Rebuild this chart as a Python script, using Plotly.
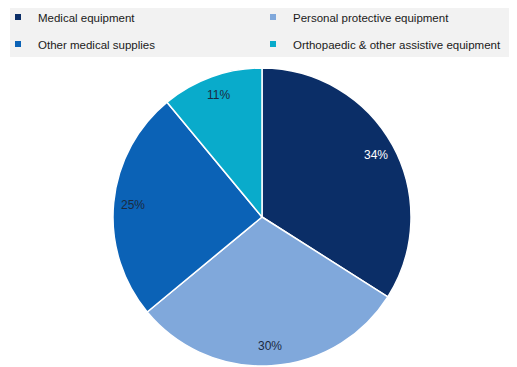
import math
import plotly.graph_objects as go

categories = ["Medical equipment", "Personal protective equipment",
              "Other medical supplies", "Orthopaedic & other assistive equipment"]
shares = [34, 30, 25, 11]
colors = ["#0b2e67", "#80a8db", "#0b62b6", "#09abcb"]
label_colors = ["#ffffff", "#1b2a3f", "#1b2a3f", "#1b2a3f"]

# The page body has an 8px margin, so the figure is drawn 8px in from the
# window's top-left corner; size it to fill the rest of the 517x367 window.
OFF = 8
W, H = 517 - OFF, 367 - OFF
cx, cy, R = 262 - OFF, 217 - OFF, 149  # pie geometry in figure pixels

fig = go.Figure()
fig.add_trace(go.Pie(
    labels=categories, values=shares, sort=False, direction="clockwise",
    rotation=0, marker=dict(colors=colors, line=dict(color="white", width=1.5)),
    textinfo="none", hoverinfo="label+percent", showlegend=False,
    domain=dict(x=[(cx - R) / W, (cx + R) / W], y=[1 - (cy + R) / H, 1 - (cy - R) / H]),
))

legend_ids = ["legend", "legend2", "legend3", "legend4"]
for name, col, lg in zip(categories, colors, legend_ids):
    fig.add_trace(go.Scatter(
        x=[None], y=[None], mode="markers", name=name, legend=lg,
        marker=dict(symbol="square", size=6, color=col), showlegend=True,
    ))

# percentage labels placed along each slice's mid-angle
total = sum(shares)
annotations = []
cum = 0
for v, tc in zip(shares, label_colors):
    a = 2 * math.pi * (cum + v / 2) / total
    cum += v
    px = cx + 0.87 * R * math.sin(a)
    py = cy - 0.87 * R * math.cos(a)
    annotations.append(dict(
        x=px / W, y=1 - py / H, xref="paper", yref="paper",
        xanchor="center", yanchor="middle",
        text=f"{round(100 * v / total)}%", showarrow=False,
        font=dict(family="Liberation Sans, Arial", size=12, color=tc),
    ))

legend_common = dict(
    orientation="v", bgcolor="rgba(0,0,0,0)", borderwidth=0,
    font=dict(family="Liberation Sans, Arial", size=11.5, color="#1a1a1a"),
    itemsizing="trace", xanchor="left", yanchor="middle",
    itemclick=False, itemdoubleclick=False,
)
# legend item anchor positions (figure px): text starts ~40px right of x
col_x = [-10, 245]
row_y = [9, 36]

fig.update_layout(
    width=W, height=H, margin=dict(l=0, r=0, t=0, b=0, autoexpand=False),
    paper_bgcolor="white", plot_bgcolor="rgba(0,0,0,0)",
    xaxis=dict(visible=False), yaxis=dict(visible=False),
    legend=dict(x=col_x[0] / W, y=1 - row_y[0] / H, **legend_common),
    legend2=dict(x=col_x[1] / W, y=1 - row_y[0] / H, **legend_common),
    legend3=dict(x=col_x[0] / W, y=1 - row_y[1] / H, **legend_common),
    legend4=dict(x=col_x[1] / W, y=1 - row_y[1] / H, **legend_common),
    shapes=[dict(type="rect", xref="paper", yref="paper",
                 x0=2 / W, x1=507 / W, y0=1 - 49 / H, y1=1 + 4 / H,
                 fillcolor="#f2f2f2", line=dict(width=0), layer="below")],
    annotations=annotations,
)

fig.write_html("out.html")
